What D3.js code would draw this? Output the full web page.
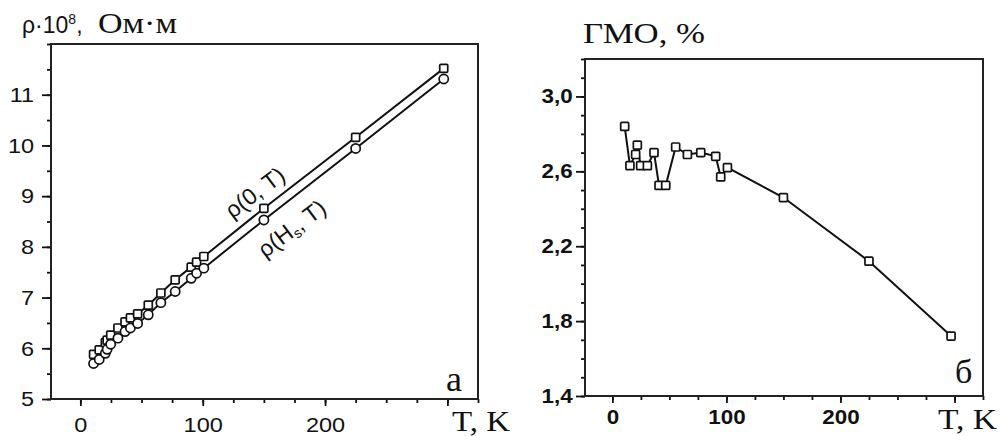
<!DOCTYPE html>
<html>
<head>
<meta charset="utf-8">
<script src="https://cdn.jsdelivr.net/npm/d3@7"></script>
<style>
  html, body { margin: 0; padding: 0; background: #fff; }
  svg { display: block; }
</style>
</head>
<body>
<svg id="chart" width="1006" height="436"></svg>
<script>
// ---- data ----
const temps = [10.8, 15.4, 20.4, 21.9, 24.8, 30.7, 36.5, 40.9, 46.8, 55.5, 65.8, 77.5, 90.6, 95, 100.9, 150, 225, 297];
const rhoZero = [5.88, 5.97, 6.11, 6.16, 6.26, 6.40, 6.52, 6.60, 6.68, 6.85, 7.09, 7.35, 7.60, 7.70, 7.81, 8.76, 10.16, 11.52];
const rhoField = [5.70, 5.78, 5.90, 5.98, 6.08, 6.20, 6.33, 6.40, 6.49, 6.66, 6.90, 7.12, 7.38, 7.48, 7.58, 8.53, 9.94, 11.31];
const gmr = [2.84, 2.63, 2.69, 2.74, 2.63, 2.63, 2.70, 2.525, 2.525, 2.73, 2.69, 2.70, 2.68, 2.57, 2.62, 2.46, 2.12, 1.72];

const xMajorTicks = [0, 100, 200, 300];
const xTickLabels = ["0", "100", "200", ""];
const leftYTicks = [5, 6, 7, 8, 9, 10, 11];
const rightYTicks = [1.4, 1.8, 2.2, 2.6, 3.0];
const rightYLabels = ["1,4", "1,8", "2,2", "2,6", "3,0"];

const svg = d3.select("#chart");
const SANS = "'Liberation Sans', Arial, sans-serif";
const SERIF = "'Liberation Serif', 'Times New Roman', serif";
const INK = "#111";

function panel(opts) {
  const x = d3.scaleLinear().domain([-24, 325]).range([opts.x0, opts.x1]);
  const y = d3.scaleLinear().domain(opts.yDomain).range([opts.y1, opts.y0]);
  const g = svg.append("g");

  g.append("g").attr("transform", `translate(0,${opts.y1})`)
    .call(d3.axisBottom(x).tickValues(d3.range(0, 326, 25)).tickSize(4).tickFormat(""))
    .call(a => a.select(".domain").remove());
  g.append("g").attr("transform", `translate(0,${opts.y1})`)
    .call(d3.axisBottom(x).tickValues(xMajorTicks).tickSize(7).tickPadding(opts.xPad)
      .tickFormat((d, i) => xTickLabels[i]))
    .call(a => a.select(".domain").remove())
    .call(a => a.selectAll("text").attr("font-family", SANS).attr("font-size", opts.fs)
      .attr("font-weight", opts.fw).attr("fill", INK)
      .attr("transform", `scale(${opts.sx},1)`));
  g.append("g").attr("transform", `translate(${opts.x0},0)`)
    .call(d3.axisLeft(y).tickValues(opts.yMinor).tickSize(4).tickFormat(""))
    .call(a => a.select(".domain").remove());
  g.append("g").attr("transform", `translate(${opts.x0},0)`)
    .call(d3.axisLeft(y).tickValues(opts.yMajor).tickSize(9).tickPadding(opts.yPad)
      .tickFormat(opts.yFormat))
    .call(a => a.select(".domain").remove())
    .call(a => a.selectAll("text").attr("font-family", SANS).attr("font-size", opts.fs)
      .attr("font-weight", opts.fw).attr("fill", INK)
      .attr("transform", `scale(${opts.sx},1)`));

  g.selectAll(".tick line").attr("stroke", INK).attr("stroke-width", 1.8);

  g.append("rect").attr("x", opts.x0).attr("y", opts.y0)
    .attr("width", opts.x1 - opts.x0).attr("height", opts.y1 - opts.y0)
    .attr("fill", "none").attr("stroke", "#222").attr("stroke-width", 2);
  return { g, x, y };
}

function drawLine(p, xs, ys) {
  const pts = xs.map((t, i) => [t, ys[i]]);
  p.g.append("path").datum(pts)
    .attr("d", d3.line().x(d => p.x(d[0])).y(d => p.y(d[1])))
    .attr("fill", "none").attr("stroke", INK).attr("stroke-width", 2);
  return pts;
}
function squares(p, pts, s) {
  p.g.append("g").selectAll("rect").data(pts).join("rect")
    .attr("x", d => p.x(d[0]) - s / 2).attr("y", d => p.y(d[1]) - s / 2)
    .attr("width", s).attr("height", s).attr("rx", 1)
    .attr("fill", "#fff").attr("stroke", INK).attr("stroke-width", 1.7);
}
function circles(p, pts, r) {
  p.g.append("g").selectAll("circle").data(pts).join("circle")
    .attr("cx", d => p.x(d[0])).attr("cy", d => p.y(d[1])).attr("r", r)
    .attr("fill", "#fff").attr("stroke", INK).attr("stroke-width", 1.7);
}

// ---- left panel ----
const L = panel({
  x0: 51, x1: 478, y0: 44, y1: 399, yDomain: [5, 12],
  yMajor: leftYTicks, yMinor: d3.range(5, 12.01, 0.5), yFormat: d3.format("d"),
  fs: 21, fw: "normal", xPad: 11, yPad: 6, sx: 1.12
});
const p0 = drawLine(L, temps, rhoZero);
const pH = drawLine(L, temps, rhoField);
squares(L, p0, 8);
circles(L, pH, 4.6);

// ---- right panel ----
const R = panel({
  x0: 585, x1: 983, y0: 59, y1: 396, yDomain: [1.4, 3.2],
  yMajor: rightYTicks, yMinor: d3.range(1.4, 3.201, 0.1),
  yFormat: (d, i) => rightYLabels[i],
  fs: 20, fw: "bold", xPad: 7, yPad: 2, sx: 1.12
});
const pg = drawLine(R, temps, gmr);
squares(R, pg, 8);

// ---- texts ----
const t1 = svg.append("text").attr("x", 22).attr("y", 33).attr("fill", INK)
  .attr("font-family", SANS).attr("font-size", 23);
t1.append("tspan").text("ρ·10");
t1.append("tspan").attr("font-size", 14).attr("dy", -9).text("8");
t1.append("tspan").attr("dy", 9).text(",");
t1.append("tspan").attr("x", 98).attr("font-family", SERIF).attr("font-size", 30)
  .attr("textLength", 79).attr("lengthAdjust", "spacingAndGlyphs").text("Ом·м");

svg.append("text").attr("x", 583).attr("y", 43).attr("fill", INK)
  .attr("font-family", SERIF).attr("font-size", 30)
  .attr("textLength", 122).attr("lengthAdjust", "spacingAndGlyphs").text("ГМО, %");

svg.append("text").attr("x", 452).attr("y", 431).attr("fill", INK)
  .attr("font-family", SERIF).attr("font-size", 30)
  .attr("textLength", 58).attr("lengthAdjust", "spacingAndGlyphs").text("T, K");
svg.append("text").attr("x", 938).attr("y", 429).attr("fill", INK)
  .attr("font-family", SERIF).attr("font-size", 30)
  .attr("textLength", 59).attr("lengthAdjust", "spacingAndGlyphs").text("T, K");

svg.append("text").attr("x", 446).attr("y", 391).attr("fill", INK)
  .attr("font-family", SERIF).attr("font-size", 36).text("а");
svg.append("text").attr("x", 955).attr("y", 383).attr("fill", INK)
  .attr("font-family", SERIF).attr("font-size", 34).text("б");

svg.append("text").attr("transform", "translate(256,194) rotate(-37)")
  .attr("text-anchor", "middle").attr("dominant-baseline", "middle").attr("fill", INK)
  .attr("font-family", SANS).attr("font-size", 23).text("ρ(0, T)");
const t2 = svg.append("text").attr("transform", "translate(293,230) rotate(-37)")
  .attr("text-anchor", "middle").attr("dominant-baseline", "middle").attr("fill", INK)
  .attr("font-family", SANS).attr("font-size", 23);
t2.append("tspan").text("ρ(H");
t2.append("tspan").attr("font-size", 14).attr("dy", 6).text("s");
t2.append("tspan").attr("dy", -6).text(", T)");
</script>
</body>
</html>
